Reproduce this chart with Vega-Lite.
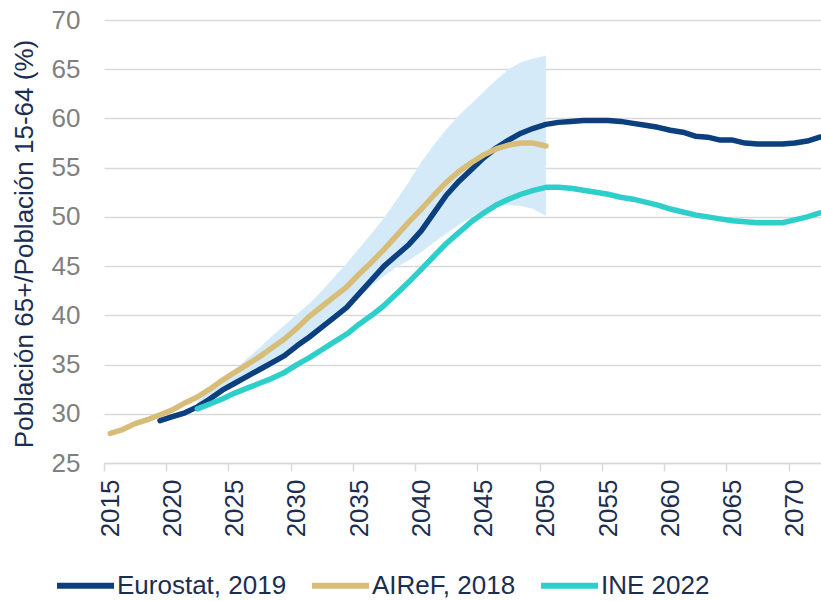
{
  "$schema": "https://vega.github.io/schema/vega-lite/v6.json",
  "width": 717,
  "height": 443,
  "autosize": {"type": "none"},
  "padding": {"left": 104, "top": 20, "right": 0, "bottom": 138},
  "background": "white",
  "config": {"view": {"stroke": null}, "font": "Liberation Sans"},
  "datasets": {
    "band": [
      {"year": 2022, "lo": 30.5, "hi": 31.3},
      {"year": 2023, "lo": 31.2, "hi": 32.3},
      {"year": 2024, "lo": 32.1, "hi": 33.3},
      {"year": 2025, "lo": 32.8, "hi": 34.4},
      {"year": 2026, "lo": 33.5, "hi": 35.6},
      {"year": 2027, "lo": 34.2, "hi": 36.7},
      {"year": 2028, "lo": 34.8, "hi": 37.9},
      {"year": 2029, "lo": 35.6, "hi": 39.0},
      {"year": 2030, "lo": 36.6, "hi": 40.1},
      {"year": 2031, "lo": 37.5, "hi": 41.2},
      {"year": 2032, "lo": 38.5, "hi": 42.5},
      {"year": 2033, "lo": 39.5, "hi": 43.9},
      {"year": 2034, "lo": 40.5, "hi": 45.3},
      {"year": 2035, "lo": 41.8, "hi": 46.8},
      {"year": 2036, "lo": 43.0, "hi": 48.3},
      {"year": 2037, "lo": 44.0, "hi": 49.9},
      {"year": 2038, "lo": 44.9, "hi": 51.7},
      {"year": 2039, "lo": 45.6, "hi": 53.6},
      {"year": 2040, "lo": 46.4, "hi": 55.6},
      {"year": 2041, "lo": 47.4, "hi": 57.3},
      {"year": 2042, "lo": 48.3, "hi": 58.9},
      {"year": 2043, "lo": 49.2, "hi": 60.3},
      {"year": 2044, "lo": 50.0, "hi": 61.5},
      {"year": 2045, "lo": 50.6, "hi": 62.7},
      {"year": 2046, "lo": 51.0, "hi": 63.9},
      {"year": 2047, "lo": 51.2, "hi": 65.0},
      {"year": 2048, "lo": 51.1, "hi": 65.7},
      {"year": 2049, "lo": 50.8, "hi": 66.1},
      {"year": 2050, "lo": 50.1, "hi": 66.4}
    ],
    "lines": [
      {"year": 2019, "series": "Eurostat, 2019", "value": 29.3},
      {"year": 2020, "series": "Eurostat, 2019", "value": 29.7},
      {"year": 2021, "series": "Eurostat, 2019", "value": 30.1},
      {"year": 2022, "series": "Eurostat, 2019", "value": 30.7},
      {"year": 2023, "series": "Eurostat, 2019", "value": 31.5},
      {"year": 2024, "series": "Eurostat, 2019", "value": 32.4},
      {"year": 2025, "series": "Eurostat, 2019", "value": 33.1},
      {"year": 2026, "series": "Eurostat, 2019", "value": 33.8},
      {"year": 2027, "series": "Eurostat, 2019", "value": 34.5},
      {"year": 2028, "series": "Eurostat, 2019", "value": 35.2},
      {"year": 2029, "series": "Eurostat, 2019", "value": 35.9},
      {"year": 2030, "series": "Eurostat, 2019", "value": 36.9},
      {"year": 2031, "series": "Eurostat, 2019", "value": 37.8},
      {"year": 2032, "series": "Eurostat, 2019", "value": 38.8},
      {"year": 2033, "series": "Eurostat, 2019", "value": 39.8},
      {"year": 2034, "series": "Eurostat, 2019", "value": 40.8},
      {"year": 2035, "series": "Eurostat, 2019", "value": 42.2},
      {"year": 2036, "series": "Eurostat, 2019", "value": 43.6},
      {"year": 2037, "series": "Eurostat, 2019", "value": 45.0},
      {"year": 2038, "series": "Eurostat, 2019", "value": 46.1},
      {"year": 2039, "series": "Eurostat, 2019", "value": 47.2},
      {"year": 2040, "series": "Eurostat, 2019", "value": 48.6},
      {"year": 2041, "series": "Eurostat, 2019", "value": 50.4},
      {"year": 2042, "series": "Eurostat, 2019", "value": 52.2},
      {"year": 2043, "series": "Eurostat, 2019", "value": 53.6},
      {"year": 2044, "series": "Eurostat, 2019", "value": 54.8},
      {"year": 2045, "series": "Eurostat, 2019", "value": 56.0},
      {"year": 2046, "series": "Eurostat, 2019", "value": 57.0},
      {"year": 2047, "series": "Eurostat, 2019", "value": 57.8},
      {"year": 2048, "series": "Eurostat, 2019", "value": 58.5},
      {"year": 2049, "series": "Eurostat, 2019", "value": 59.0},
      {"year": 2050, "series": "Eurostat, 2019", "value": 59.4},
      {"year": 2051, "series": "Eurostat, 2019", "value": 59.6},
      {"year": 2052, "series": "Eurostat, 2019", "value": 59.7},
      {"year": 2053, "series": "Eurostat, 2019", "value": 59.8},
      {"year": 2054, "series": "Eurostat, 2019", "value": 59.8},
      {"year": 2055, "series": "Eurostat, 2019", "value": 59.8},
      {"year": 2056, "series": "Eurostat, 2019", "value": 59.7},
      {"year": 2057, "series": "Eurostat, 2019", "value": 59.5},
      {"year": 2058, "series": "Eurostat, 2019", "value": 59.3},
      {"year": 2059, "series": "Eurostat, 2019", "value": 59.1},
      {"year": 2060, "series": "Eurostat, 2019", "value": 58.8},
      {"year": 2061, "series": "Eurostat, 2019", "value": 58.6},
      {"year": 2062, "series": "Eurostat, 2019", "value": 58.2},
      {"year": 2063, "series": "Eurostat, 2019", "value": 58.1},
      {"year": 2064, "series": "Eurostat, 2019", "value": 57.8},
      {"year": 2065, "series": "Eurostat, 2019", "value": 57.8},
      {"year": 2066, "series": "Eurostat, 2019", "value": 57.5},
      {"year": 2067, "series": "Eurostat, 2019", "value": 57.4},
      {"year": 2068, "series": "Eurostat, 2019", "value": 57.4},
      {"year": 2069, "series": "Eurostat, 2019", "value": 57.4},
      {"year": 2070, "series": "Eurostat, 2019", "value": 57.5},
      {"year": 2071, "series": "Eurostat, 2019", "value": 57.7},
      {"year": 2072, "series": "Eurostat, 2019", "value": 58.1},
      {"year": 2015, "series": "AIReF, 2018", "value": 28.0},
      {"year": 2016, "series": "AIReF, 2018", "value": 28.4},
      {"year": 2017, "series": "AIReF, 2018", "value": 29.0},
      {"year": 2018, "series": "AIReF, 2018", "value": 29.4},
      {"year": 2019, "series": "AIReF, 2018", "value": 29.9},
      {"year": 2020, "series": "AIReF, 2018", "value": 30.4},
      {"year": 2021, "series": "AIReF, 2018", "value": 31.1},
      {"year": 2022, "series": "AIReF, 2018", "value": 31.7},
      {"year": 2023, "series": "AIReF, 2018", "value": 32.5},
      {"year": 2024, "series": "AIReF, 2018", "value": 33.4},
      {"year": 2025, "series": "AIReF, 2018", "value": 34.2},
      {"year": 2026, "series": "AIReF, 2018", "value": 35.0},
      {"year": 2027, "series": "AIReF, 2018", "value": 35.8},
      {"year": 2028, "series": "AIReF, 2018", "value": 36.7},
      {"year": 2029, "series": "AIReF, 2018", "value": 37.6},
      {"year": 2030, "series": "AIReF, 2018", "value": 38.7},
      {"year": 2031, "series": "AIReF, 2018", "value": 39.9},
      {"year": 2032, "series": "AIReF, 2018", "value": 40.9},
      {"year": 2033, "series": "AIReF, 2018", "value": 41.9},
      {"year": 2034, "series": "AIReF, 2018", "value": 42.9},
      {"year": 2035, "series": "AIReF, 2018", "value": 44.2},
      {"year": 2036, "series": "AIReF, 2018", "value": 45.4},
      {"year": 2037, "series": "AIReF, 2018", "value": 46.7},
      {"year": 2038, "series": "AIReF, 2018", "value": 48.1},
      {"year": 2039, "series": "AIReF, 2018", "value": 49.5},
      {"year": 2040, "series": "AIReF, 2018", "value": 50.8},
      {"year": 2041, "series": "AIReF, 2018", "value": 52.2},
      {"year": 2042, "series": "AIReF, 2018", "value": 53.5},
      {"year": 2043, "series": "AIReF, 2018", "value": 54.6},
      {"year": 2044, "series": "AIReF, 2018", "value": 55.5},
      {"year": 2045, "series": "AIReF, 2018", "value": 56.3},
      {"year": 2046, "series": "AIReF, 2018", "value": 56.9},
      {"year": 2047, "series": "AIReF, 2018", "value": 57.3},
      {"year": 2048, "series": "AIReF, 2018", "value": 57.5},
      {"year": 2049, "series": "AIReF, 2018", "value": 57.5},
      {"year": 2050, "series": "AIReF, 2018", "value": 57.2},
      {"year": 2022, "series": "INE 2022", "value": 30.5},
      {"year": 2023, "series": "INE 2022", "value": 31.0},
      {"year": 2024, "series": "INE 2022", "value": 31.5},
      {"year": 2025, "series": "INE 2022", "value": 32.1},
      {"year": 2026, "series": "INE 2022", "value": 32.6},
      {"year": 2027, "series": "INE 2022", "value": 33.1},
      {"year": 2028, "series": "INE 2022", "value": 33.6},
      {"year": 2029, "series": "INE 2022", "value": 34.2},
      {"year": 2030, "series": "INE 2022", "value": 35.0},
      {"year": 2031, "series": "INE 2022", "value": 35.7},
      {"year": 2032, "series": "INE 2022", "value": 36.5},
      {"year": 2033, "series": "INE 2022", "value": 37.3},
      {"year": 2034, "series": "INE 2022", "value": 38.1},
      {"year": 2035, "series": "INE 2022", "value": 39.1},
      {"year": 2036, "series": "INE 2022", "value": 40.0},
      {"year": 2037, "series": "INE 2022", "value": 41.0},
      {"year": 2038, "series": "INE 2022", "value": 42.2},
      {"year": 2039, "series": "INE 2022", "value": 43.4},
      {"year": 2040, "series": "INE 2022", "value": 44.7},
      {"year": 2041, "series": "INE 2022", "value": 46.0},
      {"year": 2042, "series": "INE 2022", "value": 47.3},
      {"year": 2043, "series": "INE 2022", "value": 48.4},
      {"year": 2044, "series": "INE 2022", "value": 49.5},
      {"year": 2045, "series": "INE 2022", "value": 50.4},
      {"year": 2046, "series": "INE 2022", "value": 51.2},
      {"year": 2047, "series": "INE 2022", "value": 51.8},
      {"year": 2048, "series": "INE 2022", "value": 52.3},
      {"year": 2049, "series": "INE 2022", "value": 52.7},
      {"year": 2050, "series": "INE 2022", "value": 53.0},
      {"year": 2051, "series": "INE 2022", "value": 53.0},
      {"year": 2052, "series": "INE 2022", "value": 52.9},
      {"year": 2053, "series": "INE 2022", "value": 52.7},
      {"year": 2054, "series": "INE 2022", "value": 52.5},
      {"year": 2055, "series": "INE 2022", "value": 52.3},
      {"year": 2056, "series": "INE 2022", "value": 52.0},
      {"year": 2057, "series": "INE 2022", "value": 51.8},
      {"year": 2058, "series": "INE 2022", "value": 51.5},
      {"year": 2059, "series": "INE 2022", "value": 51.2},
      {"year": 2060, "series": "INE 2022", "value": 50.8},
      {"year": 2061, "series": "INE 2022", "value": 50.5},
      {"year": 2062, "series": "INE 2022", "value": 50.2},
      {"year": 2063, "series": "INE 2022", "value": 50.0},
      {"year": 2064, "series": "INE 2022", "value": 49.8},
      {"year": 2065, "series": "INE 2022", "value": 49.6},
      {"year": 2066, "series": "INE 2022", "value": 49.5},
      {"year": 2067, "series": "INE 2022", "value": 49.4},
      {"year": 2068, "series": "INE 2022", "value": 49.4},
      {"year": 2069, "series": "INE 2022", "value": 49.4},
      {"year": 2070, "series": "INE 2022", "value": 49.7},
      {"year": 2071, "series": "INE 2022", "value": 50.0},
      {"year": 2072, "series": "INE 2022", "value": 50.4}
    ]
  },
  "layer": [
    {
      "data": {"name": "band"},
      "mark": {"type": "area", "color": "#D5EAF9", "opacity": 1},
      "encoding": {
        "x": {
          "field": "year", "type": "quantitative",
          "scale": {"domain": [2014.5, 2072.1], "nice": false, "zero": false},
          "axis": {
            "values": [2015, 2020, 2025, 2030, 2035, 2040, 2045, 2050, 2055, 2060, 2065, 2070],
            "format": "d",
            "title": null,
            "grid": false,
            "domainColor": "#D9D9D9",
            "domainWidth": 1.5,
            "tickColor": "#D9D9D9",
            "tickWidth": 1.5,
            "tickSize": 8,
            "tickOffset": -6.22,
            "labelOffset": 6.22,
            "labelAngle": -90,
            "labelAlign": "right",
            "labelBaseline": "middle",
            "labelPadding": 8,
            "labelFontSize": 26,
            "labelColor": "#1B2E4F",
            "labelFont": "Liberation Sans"
          }
        },
        "y": {
          "field": "lo", "type": "quantitative",
          "scale": {"domain": [25, 70], "nice": false, "zero": false},
          "axis": {
            "values": [25, 30, 35, 40, 45, 50, 55, 60, 65, 70],
            "title": "Población 65+/Población 15-64 (%)",
            "titleFont": "Liberation Sans",
            "titleFontSize": 26,
            "titleFontWeight": "normal",
            "titleColor": "#1B2E4F",
            "titleAngle": -90,
            "titleAlign": "center",
            "titleBaseline": "middle",
            "titleX": -80,
            "titleY": 223.5,
            "domain": false,
            "ticks": false,
            "grid": true,
            "gridColor": "#D9D9D9",
            "gridWidth": 1.5,
            "labelPadding": 24,
            "labelFontSize": 26,
            "labelColor": "#808080",
            "labelFont": "Liberation Sans"
          }
        },
        "y2": {"field": "hi"}
      }
    },
    {
      "data": {"name": "lines"},
      "mark": {"type": "line", "strokeWidth": 5.5, "strokeCap": "round", "strokeJoin": "round"},
      "encoding": {
        "x": {"field": "year", "type": "quantitative"},
        "y": {"field": "value", "type": "quantitative"},
        "color": {
          "field": "series", "type": "nominal",
          "scale": {
            "domain": ["Eurostat, 2019", "AIReF, 2018", "INE 2022"],
            "range": ["#0B3F7E", "#D8BD78", "#2ECFCB"]
          },
          "legend": {
            "orient": "none",
            "legendX": -50,
            "legendY": 534,
            "direction": "horizontal",
            "title": null,
            "symbolType": "stroke",
            "symbolSize": 3249,
            "symbolStrokeWidth": 6,
            "labelFontSize": 26,
            "labelFont": "Liberation Sans",
            "labelColor": "#1B2E4F",
            "labelOffset": 0,
            "columnPadding": 13,
            "labelLimit": 400
          }
        },
        "order": {"field": "year", "type": "quantitative"}
      }
    }
  ]
}
